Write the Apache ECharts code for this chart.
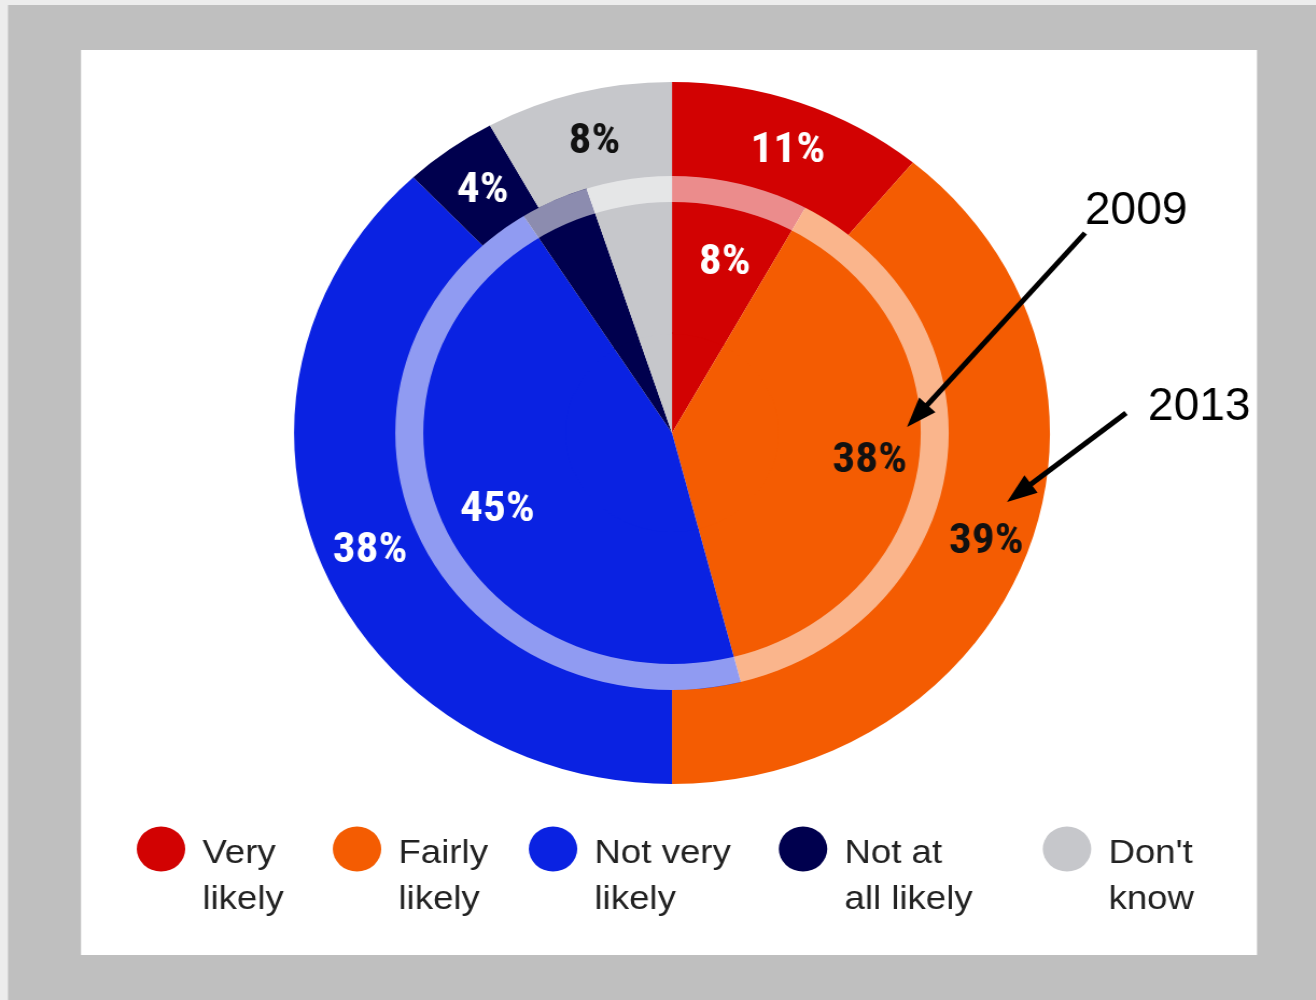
<!DOCTYPE html>
<html>
<head>
<meta charset="utf-8">
<script src="https://cdn.jsdelivr.net/npm/echarts@6/dist/echarts.min.js"></script>
<style>
  html, body { margin: 0; padding: 0; background: #ededed; overflow: hidden; }
  /* the chart is laid out in a narrower box and widened, giving the oval pie */
  #chart { width: 1222.2px; height: 1000px; transform: scaleX(1.0768); transform-origin: 0 0; }
</style>
</head>
<body>
<div id="chart"></div>
<script>
// Survey answers, 2013 (outer ring) and 2009 (inner pie), in percent
const categories = ['Very likely', 'Fairly likely', 'Not very likely', 'Not at all likely', "Don't know"];
const legendLines = [['Very', 'likely'], ['Fairly', 'likely'], ['Not very', 'likely'], ['Not at', 'all likely'], ["Don't", 'know']];
const values2013 = [11, 39, 38, 4, 8];
const values2009 = [8, 38, 45, 4, 5];
const labelled2009 = [true, true, true, false, false];
const yearLabels = ['2009', '2013'];

const S = 1.0768;                 // horizontal widening of the chart box
const sx = x => x / S;            // page x -> chart x
const colors = {
  'Very likely': '#d20202',
  'Fairly likely': '#f45c02',
  'Not very likely': '#0a22e2',
  'Not at all likely': '#00004e',
  "Don't know": '#c6c7cb'
};
const darkText = new Set(['Fairly likely', "Don't know"]);
const labelFont = "'Roboto Condensed', Roboto, 'Liberation Sans', sans-serif";

function sliceLabel(name, show) {
  return {
    show: show,
    position: 'inside',
    rotate: 0,
    offset: [4, 6],
    formatter: '{c}%',
    fontFamily: labelFont,
    fontWeight: 'bold',
    fontSize: 42,
    color: darkText.has(name) ? '#111111' : '#ffffff',
    textBorderWidth: 0
  };
}

function slices(values, showFlags) {
  return categories.map((name, i) => ({
    name: name,
    value: values[i],
    itemStyle: { color: colors[name], borderWidth: 0 },
    label: sliceLabel(name, showFlags ? showFlags[i] : false)
  }));
}

const center = [sx(672), 433];
const pieBase = {
  type: 'pie',
  center: center,
  startAngle: 90,
  clockwise: true,
  avoidLabelOverlap: false,
  labelLine: { show: false },
  emphasis: { disabled: true },
  animation: false
};

// arrows from the year captions to the rings
function arrow(from, tip) {
  const dx = tip[0] - from[0], dy = tip[1] - from[1];
  const len = Math.hypot(dx, dy);
  const ux = dx / len, uy = dy / len;
  const head = 30, half = 11;
  const bx = tip[0] - ux * head, by = tip[1] - uy * head;
  const nx = -uy, ny = ux;
  return [
    {
      type: 'line', z: 100,
      shape: { x1: sx(from[0]), y1: from[1], x2: sx(bx + ux * 4), y2: by + uy * 4 },
      style: { stroke: '#000', lineWidth: 5 }
    },
    {
      type: 'polygon', z: 100,
      shape: { points: [
        [sx(tip[0]), tip[1]],
        [sx(bx + nx * half), by + ny * half],
        [sx(bx - nx * half), by - ny * half]
      ] },
      style: { fill: '#000' }
    }
  ];
}

function caption(text, x, yMid) {
  return {
    type: 'text', z: 100, x: sx(x), y: yMid, scaleX: 1 / S,
    style: {
      text: text, x: 0, y: 0, fill: '#000',
      font: "46px 'Liberation Sans', Arial, sans-serif",
      align: 'left', verticalAlign: 'middle'
    }
  };
}

const legendCenters = [161, 357, 553, 803, 1067];
const legendText = {
  fontFamily: "'Liberation Sans', Arial, sans-serif",
  fontSize: 34,
  lineHeight: 46,
  color: '#222222'
};

const option = {
  backgroundColor: 'transparent',
  animation: false,
  graphic: [
    { type: 'rect', z: -10, shape: { x: sx(8), y: 5, width: sx(1316 - 8), height: 995 }, style: { fill: '#bfbfbf' } },
    { type: 'rect', z: -9, shape: { x: sx(81), y: 50, width: sx(1257 - 81), height: 905 }, style: { fill: '#ffffff' } },
    ...arrow([1085, 233], [907, 427]),
    ...arrow([1126, 413], [1007, 502]),
    caption(yearLabels[0], 1085, 211),
    caption(yearLabels[1], 1148, 407)
  ],
  legend: categories.map((name, i) => ({
    data: [name],
    left: sx(legendCenters[i]) - 22.5,
    top: 798,
    padding: 0,
    orient: 'horizontal',
    icon: 'circle',
    itemWidth: 45,
    itemHeight: 45,
    selectedMode: false,
    // a short spacer line on top keeps the swatch level with the first line
    formatter: n => {
      const l = legendLines[categories.indexOf(n)];
      return '{gap|}\n{t|' + l[0] + '}\n{t|' + l[1] + '}';
    },
    textStyle: {
      fontFamily: legendText.fontFamily,
      fontSize: legendText.fontSize,
      color: legendText.color,
      padding: [0, 0, 0, 11],
      rich: {
        gap: { fontSize: 10, lineHeight: 56 },
        t: legendText
      }
    }
  })),
  series: [
    Object.assign({}, pieBase, {
      name: yearLabels[1], radius: [255, 351], z: 2,
      data: slices(values2013, categories.map(() => true))
    }),
    Object.assign({}, pieBase, {
      name: yearLabels[0] + ' core', radius: [0, 101], z: 3,
      data: slices(values2009, null)
    }),
    Object.assign({}, pieBase, {
      name: yearLabels[0], radius: [99, 257], z: 3,
      data: slices(values2009, labelled2009)
    }),
    Object.assign({}, pieBase, {
      name: 'ring', radius: [231, 257], z: 4, silent: true,
      data: [{ name: 'ring', value: 1, itemStyle: { color: 'rgba(255,255,255,0.55)', borderWidth: 0 }, label: { show: false } }]
    })
  ]
};

const chart = echarts.init(document.getElementById('chart'), null, { renderer: 'canvas' });
chart.setOption(option);
</script>
</body>
</html>
